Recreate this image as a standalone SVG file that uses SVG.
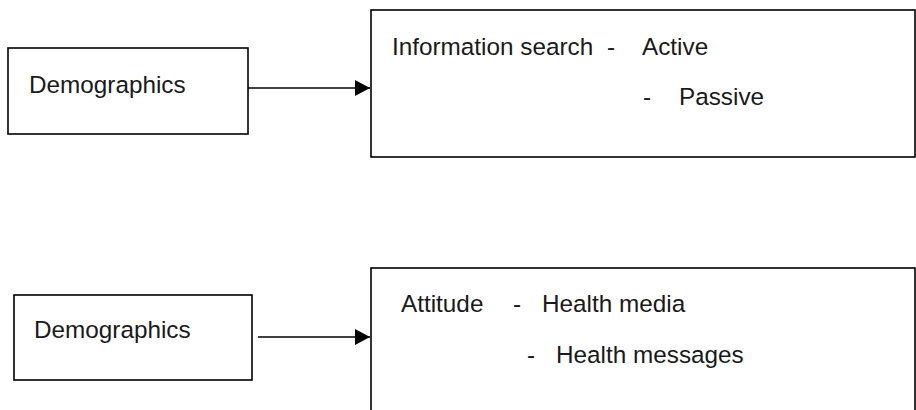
<svg xmlns="http://www.w3.org/2000/svg" width="916" height="410" viewBox="0 0 916 410">
<style>
.box{fill:#fff;stroke:#000;stroke-width:1.6}
.t{font-family:"Liberation Sans",Arial,sans-serif;font-size:24.3px;fill:#1a1a1a}
.c{stroke:#000;stroke-width:1.6;fill:none}
</style>
<defs>
<marker id="ah" markerUnits="userSpaceOnUse" markerWidth="16" markerHeight="16" refX="15" refY="8" orient="auto">
<path d="M0,0 L15,8 L0,16 Z" fill="#000"/>
</marker>
</defs>
<g id="demo1">
<rect class="box" x="8" y="48" width="240" height="86"/>
<text class="t" x="29" y="93">Demographics</text>
</g>
<g id="info">
<rect class="box" x="371" y="10" width="544" height="147"/>
<text class="t" x="392" y="55">Information search</text>
<text class="t" x="607" y="55">-</text>
<text class="t" x="642" y="55">Active</text>
<text class="t" x="643" y="105">-</text>
<text class="t" x="679" y="105">Passive</text>
</g>
<g id="demo2">
<rect class="box" x="14" y="295" width="238" height="85"/>
<text class="t" x="34" y="338">Demographics</text>
</g>
<g id="attitude">
<rect class="box" x="371" y="268" width="544" height="160"/>
<text class="t" x="401" y="312">Attitude</text>
<text class="t" x="513" y="312">-</text>
<text class="t" x="542" y="312">Health media</text>
<text class="t" x="527" y="363">-</text>
<text class="t" x="556" y="363">Health messages</text>
</g>
<g id="connectors">
<line class="c" x1="248" y1="88" x2="370" y2="88" marker-end="url(#ah)"/>
<line class="c" x1="258" y1="337" x2="370" y2="337" marker-end="url(#ah)"/>
</g>
</svg>
